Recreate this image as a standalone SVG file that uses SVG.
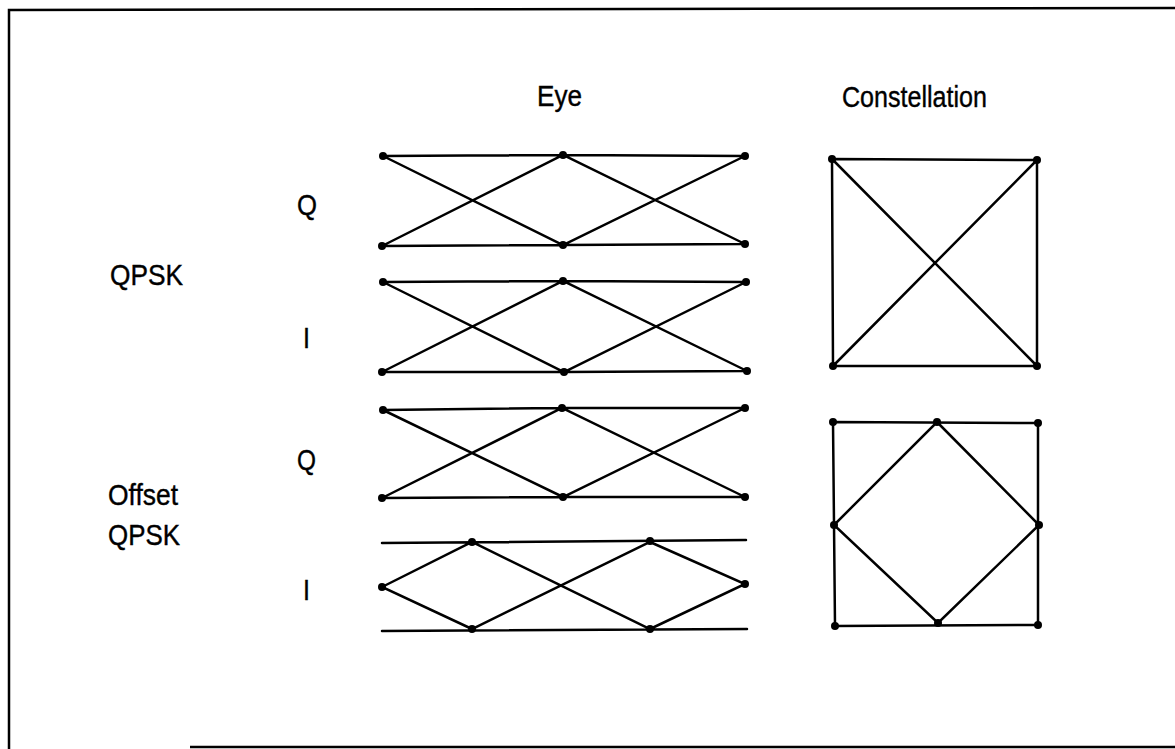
<svg xmlns="http://www.w3.org/2000/svg" width="1175" height="749" viewBox="0 0 1175 749">
<style>
.t{font-family:"Liberation Sans",Arial,sans-serif;font-size:30px;fill:#000;stroke:#000;stroke-width:0.4}
.l{stroke:#000;stroke-width:2.5;fill:none;stroke-linecap:round}
.d{fill:#000}
.f{stroke:#000;stroke-width:2.5;fill:none}
</style>
<rect width="1175" height="749" fill="#fff"/>
<g id="frame">
<path class="f" d="M9,749 L9,10 L1175,8"/>
<path class="f" d="M190,747 L1175,747"/>
</g>
<g id="labels">
<text class="t" x="537" y="106" textLength="45" lengthAdjust="spacingAndGlyphs">Eye</text>
<text class="t" x="842" y="107" textLength="145" lengthAdjust="spacingAndGlyphs">Constellation</text>
<text class="t" x="297" y="215" textLength="20" lengthAdjust="spacingAndGlyphs">Q</text>
<text class="t" x="110" y="285" textLength="73" lengthAdjust="spacingAndGlyphs">QPSK</text>
<text class="t" x="303" y="348" textLength="7" lengthAdjust="spacingAndGlyphs">I</text>
<text class="t" x="297" y="470" textLength="19" lengthAdjust="spacingAndGlyphs">Q</text>
<text class="t" x="108" y="505" textLength="70" lengthAdjust="spacingAndGlyphs">Offset</text>
<text class="t" x="108" y="545" textLength="72" lengthAdjust="spacingAndGlyphs">QPSK</text>
<text class="t" x="303" y="600" textLength="7" lengthAdjust="spacingAndGlyphs">I</text>
</g>
<g id="connectors">
<path class="l" d="M383,156 L563,155 L745,156 M382,246 L563,245 L745,244 M383,156 L563,245 L745,156 M382,246 L563,155 L745,244"/>
<path class="l" d="M383,282 L563,281 L746,282 M382,372 L564,372 L747,371 M383,282 L564,372 L746,282 M382,372 L563,281 L747,371"/>
<path class="l" d="M383,410 L562,408 L745,408 M382,498 L563,497 L745,497 M383,410 L563,497 L745,408 M382,498 L562,408 L745,497"/>
<path class="l" d="M382,543 L746,540 M382,631 L747,629 M382,587 L472,542 L650,629 L745,584 L650,542 L472,629 Z"/>
<path class="l" d="M832,159 L1037,160 L1037,366 L833,366 Z M832,159 L1037,366 M1037,160 L833,366"/>
<path class="l" d="M833,422 L1038,423 L1038,625 L835,626 Z M937,422 L1039,525 L938,623 L834,525 Z"/>
</g>
<g id="dots" class="d">
<circle cx="383" cy="156" r="4"/><circle cx="563" cy="155" r="4"/><circle cx="745" cy="156" r="4"/>
<circle cx="382" cy="246" r="4"/><circle cx="563" cy="245" r="4"/><circle cx="745" cy="244" r="4"/>
<circle cx="383" cy="282" r="4"/><circle cx="563" cy="281" r="4"/><circle cx="746" cy="282" r="4"/>
<circle cx="382" cy="372" r="4"/><circle cx="564" cy="372" r="4"/><circle cx="747" cy="371" r="4"/>
<circle cx="383" cy="410" r="4"/><circle cx="562" cy="408" r="4"/><circle cx="745" cy="408" r="4"/>
<circle cx="382" cy="498" r="4"/><circle cx="563" cy="497" r="4"/><circle cx="745" cy="497" r="4"/>
<circle cx="472" cy="542" r="4"/><circle cx="650" cy="541" r="4"/>
<circle cx="382" cy="587" r="4"/><circle cx="745" cy="584" r="4"/>
<circle cx="472" cy="629" r="4"/><circle cx="650" cy="629" r="4"/>
<circle cx="832" cy="159" r="4"/><circle cx="1037" cy="160" r="4"/><circle cx="833" cy="366" r="4"/><circle cx="1037" cy="366" r="4"/>
<circle cx="833" cy="422" r="4"/><circle cx="937" cy="422" r="4"/><circle cx="1038" cy="423" r="4"/>
<circle cx="834" cy="525" r="4"/><circle cx="1039" cy="525" r="4"/>
<circle cx="835" cy="626" r="4"/><circle cx="938" cy="623" r="4"/><circle cx="1038" cy="625" r="4"/>
</g>
</svg>
